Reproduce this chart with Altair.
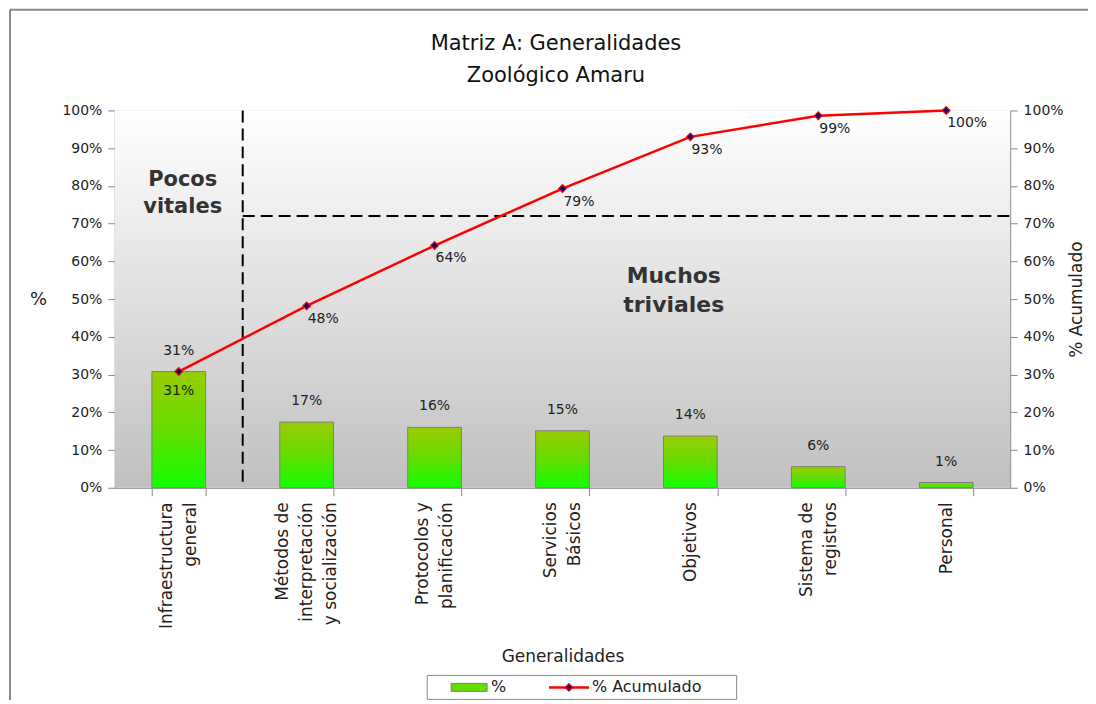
import altair as alt
import pandas as pd

# ---------------- data ----------------
categories = [
    "Infraestructura\ngeneral",
    "Métodos de\ninterpretación\ny socialización",
    "Protocolos y\nplanificación",
    "Servicios\nBásicos",
    "Objetivos",
    "Sistema de\nregistros",
    "Personal",
]
pct = [0.308, 0.174, 0.160, 0.151, 0.137, 0.056, 0.014]
cum = [0.308, 0.482, 0.642, 0.793, 0.930, 0.986, 1.000]
y_ticks = [0, 0.1, 0.2, 0.3, 0.4, 0.5, 0.6, 0.7, 0.8, 0.9, 1.0]
threshold = [0.72]
title_lines = ["Matriz A: Generalidades", "Zoológico Amaru"]
legend_labels = ["%", "% Acumulado"]

df = pd.DataFrame({"cat": categories, "pct": pct, "cum": cum, "idx": list(range(len(categories)))})
one = pd.DataFrame({"a": [0]})

W, H = 897, 378
FONT = "DejaVu Sans"
TXT = "#222222"
GREY = "#888888"

ydom = alt.Scale(domain=[0, 1])

xenc = alt.X(
    "cat:N",
    sort=categories,
    scale=alt.Scale(paddingInner=0.58, paddingOuter=0.29),
    axis=alt.Axis(
        title="Generalidades",
        labelAngle=270,
        labelExpr="split(datum.label, '\\n')",
        labelOffset={"expr": "-(length(split(datum.value, '\\n')) - 1) * 12"},
        labelFontSize=17,
        labelLineHeight=24,
        labelFont=FONT,
        labelColor=TXT,
        labelPadding=6,
        tickBand="extent",
        tickSize=8,
        tickColor=GREY,
        domainColor=GREY,
        titleFont=FONT,
        titleFontSize=17,
        titleFontWeight="normal",
        titleColor=TXT,
        titleY=169,
        titleBaseline="middle",
        grid=False,
    ),
)

bg_grad = alt.Gradient(
    gradient="linear",
    stops=[alt.GradientStop(offset=0, color="#ffffff"), alt.GradientStop(offset=1, color="#c0c0c0")],
    x1=0, x2=0, y1=0, y2=1,
)
bar_grad = alt.Gradient(
    gradient="linear",
    stops=[alt.GradientStop(offset=0, color="#99cc00"), alt.GradientStop(offset=0.5, color="#66dd00"),
           alt.GradientStop(offset=1, color="#11ff00")],
    x1=0, x2=0, y1=0, y2=1,
)

# outer chart-area frame (top and left edges visible in the reference)
frame_top = alt.Chart(one).mark_rule(color=GREY, strokeWidth=2).encode(
    x=alt.value(-105), x2=alt.value(1000), y=alt.value(-101)
)
frame_left = alt.Chart(one).mark_rule(color=GREY, strokeWidth=2).encode(
    x=alt.value(-105), y=alt.value(-101), y2=alt.value(700)
)

bg = alt.Chart(one).mark_rect(fill=bg_grad).encode(
    x=alt.value(0), x2=alt.value(W), y=alt.value(0), y2=alt.value(H)
)

title_txt = alt.Chart(one).mark_text(
    text=title_lines, font=FONT, fontSize=21, color="#111111", lineHeight=32,
    align="center", baseline="middle",
).encode(x=alt.value(442), y=alt.value(-67))

bars = alt.Chart(df).mark_bar(fill=bar_grad, stroke="#808080", strokeWidth=1).encode(
    x=xenc,
    y=alt.Y(
        "pct:Q",
        scale=ydom,
        axis=alt.Axis(
            format=".0%", values=y_ticks, grid=False, tickSize=7, tickColor=GREY, domainColor=GREY,
            labelFont=FONT, labelFontSize=14, labelColor=TXT, labelPadding=6,
            title="%", titleAngle=0, titleX=-77, titleY=H / 2, titleAlign="center",
            titleBaseline="middle", titleFont=FONT, titleFontSize=18, titleFontWeight="normal",
            titleColor=TXT,
        ),
    ),
)

bar_labels = alt.Chart(df).mark_text(font=FONT, fontSize=14, color=TXT, dy=-21, baseline="middle").encode(
    x=alt.X("cat:N", sort=categories),
    y=alt.Y("pct:Q", scale=ydom, axis=None),
    text=alt.Text("pct:Q", format=".0%"),
)

vdash = alt.Chart(one).mark_rule(color="black", strokeWidth=2, strokeDash=[12, 6]).encode(
    x=alt.value(W / 7), y=alt.value(0), y2=alt.value(H)
)

hdash = alt.Chart(pd.DataFrame({"t": threshold})).mark_rule(color="black", strokeWidth=2, strokeDash=[12, 6]).encode(
    x=alt.value(W / 7), x2=alt.value(W), y=alt.Y("t:Q", scale=ydom, axis=None)
)

line = alt.Chart(df).mark_line(
    color="red", strokeWidth=2.5,
    point=alt.OverlayMarkDef(shape="diamond", filled=True, fill="#000080", stroke="red", strokeWidth=1.2, size=60),
).encode(
    x=alt.X("cat:N", sort=categories),
    y=alt.Y(
        "cum:Q",
        scale=ydom,
        axis=alt.Axis(
            orient="right", format=".0%", values=y_ticks, grid=False, tickSize=7, tickColor=GREY,
            domainColor=GREY, labelFont=FONT, labelFontSize=14, labelColor=TXT, labelPadding=6,
            title="% Acumulado", titleAngle=270, titleX=66, titleY=H / 2, titleAlign="center",
            titleBaseline="middle", titleFont=FONT, titleFontSize=17, titleFontWeight="normal",
            titleColor=TXT,
        ),
    ),
)

cum_labels = alt.Chart(df).transform_filter("datum.idx > 0").mark_text(
    font=FONT, fontSize=14, color=TXT, align="left", dx=1, dy=13, baseline="middle"
).encode(
    x=alt.X("cat:N", sort=categories),
    y=alt.Y("cum:Q", scale=ydom, axis=None),
    text=alt.Text("cum:Q", format=".0%"),
)
cum_first = alt.Chart(df).transform_filter("datum.idx == 0").mark_text(
    font=FONT, fontSize=14, color=TXT, align="center", dy=19, baseline="middle"
).encode(
    x=alt.X("cat:N", sort=categories),
    y=alt.Y("cum:Q", scale=ydom, axis=None),
    text=alt.Text("cum:Q", format=".0%"),
)

pocos = alt.Chart(one).mark_text(
    text=["Pocos", "vitales"], font=FONT, fontSize=21, fontWeight="bold", color="#333333",
    lineHeight=27, align="center", baseline="middle",
).encode(x=alt.value(68), y=alt.value(70))

muchos = alt.Chart(one).mark_text(
    text=["Muchos", "triviales"], font=FONT, fontSize=22, fontWeight="bold", color="#333333",
    lineHeight=29, align="center", baseline="middle",
).encode(x=alt.value(560), y=alt.value(166))

# ---- legend (drawn) ----
LY = 578
leg_box = alt.Chart(one).mark_rect(fill="white", stroke=GREY, strokeWidth=1).encode(
    x=alt.value(313), x2=alt.value(623), y=alt.value(LY - 12), y2=alt.value(LY + 12)
)
leg_bar = alt.Chart(one).mark_rect(fill="#66dd00", stroke="#808080", strokeWidth=1).encode(
    x=alt.value(337), x2=alt.value(373), y=alt.value(LY - 4), y2=alt.value(LY + 4)
)
leg_bar_txt = alt.Chart(one).mark_text(
    text=legend_labels[0], font=FONT, fontSize=16, color=TXT, align="left", baseline="middle"
).encode(x=alt.value(377), y=alt.value(LY))
leg_line = alt.Chart(one).mark_rule(color="red", strokeWidth=2.5).encode(
    x=alt.value(435), x2=alt.value(475), y=alt.value(LY)
)
leg_pt = alt.Chart(one).mark_point(
    shape="diamond", filled=True, fill="#000080", stroke="red", strokeWidth=1.2, size=60, opacity=1
).encode(x=alt.value(455), y=alt.value(LY))
leg_line_txt = alt.Chart(one).mark_text(
    text=legend_labels[1], font=FONT, fontSize=16, color=TXT, align="left", baseline="middle"
).encode(x=alt.value(478), y=alt.value(LY))

chart = alt.layer(
    frame_top, frame_left, bg, title_txt, vdash, bars, bar_labels, hdash, line, cum_labels, cum_first,
    pocos, muchos, leg_box, leg_bar, leg_bar_txt, leg_line, leg_pt, leg_line_txt,
).resolve_axis(y="independent").properties(
    width=W,
    height=H,
    autosize=alt.AutoSizeParams(type="none"),
    padding={"left": 107, "top": 102, "right": 78, "bottom": 212},
).configure_view(stroke=GREY, strokeWidth=1).configure(background="white")

chart.save("out.html", embed_options={"renderer": "svg", "actions": False})
